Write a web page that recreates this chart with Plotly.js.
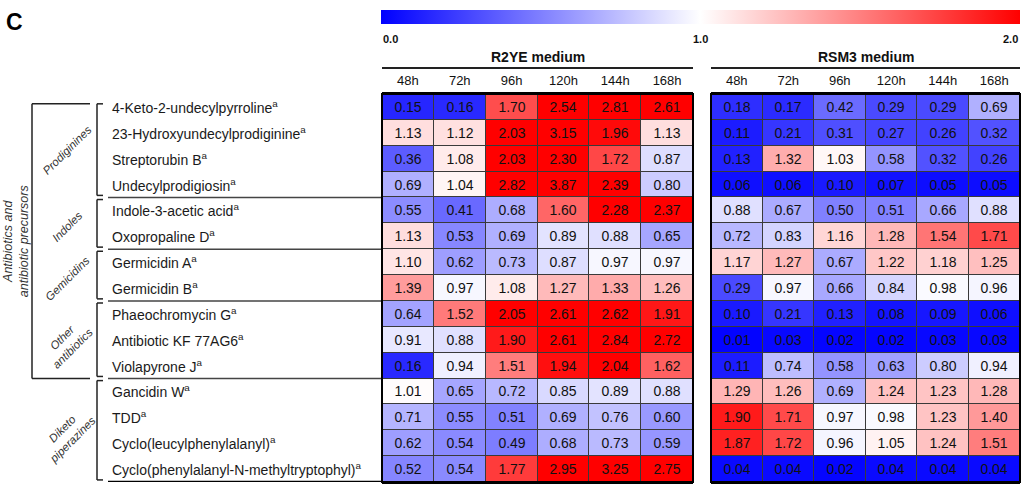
<!DOCTYPE html>
<html>
<head>
<meta charset="utf-8">
<script src="https://cdn.plot.ly/plotly-3.0.1.min.js"></script>
<style>html,body{margin:0;padding:0;background:#fff}#chart{width:1029px;height:490px}</style>
</head>
<body>
<div id="chart"></div>
<script>
const hours = ['48h','72h','96h','120h','144h','168h'];
const compounds = [
  '4-Keto-2-undecylpyrroline','23-Hydroxyundecylprodiginine','Streptorubin B','Undecylprodigiosin',
  'Indole-3-acetic acid','Oxopropaline D','Germicidin A','Germicidin B',
  'Phaeochromycin G','Antibiotic KF 77AG6','Violapyrone J',
  'Gancidin W','TDD','Cyclo(leucylphenylalanyl)','Cyclo(phenylalanyl-N-methyltryptophyl)'
];
const r2ye = [
  [0.15,0.16,1.70,2.54,2.81,2.61],
  [1.13,1.12,2.03,3.15,1.96,1.13],
  [0.36,1.08,2.03,2.30,1.72,0.87],
  [0.69,1.04,2.82,3.87,2.39,0.80],
  [0.55,0.41,0.68,1.60,2.28,2.37],
  [1.13,0.53,0.69,0.89,0.88,0.65],
  [1.10,0.62,0.73,0.87,0.97,0.97],
  [1.39,0.97,1.08,1.27,1.33,1.26],
  [0.64,1.52,2.05,2.61,2.62,1.91],
  [0.91,0.88,1.90,2.61,2.84,2.72],
  [0.16,0.94,1.51,1.94,2.04,1.62],
  [1.01,0.65,0.72,0.85,0.89,0.88],
  [0.71,0.55,0.51,0.69,0.76,0.60],
  [0.62,0.54,0.49,0.68,0.73,0.59],
  [0.52,0.54,1.77,2.95,3.25,2.75]
];
const rsm3 = [
  [0.18,0.17,0.42,0.29,0.29,0.69],
  [0.11,0.21,0.31,0.27,0.26,0.32],
  [0.13,1.32,1.03,0.58,0.32,0.26],
  [0.06,0.06,0.10,0.07,0.05,0.05],
  [0.88,0.67,0.50,0.51,0.66,0.88],
  [0.72,0.83,1.16,1.28,1.54,1.71],
  [1.17,1.27,0.67,1.22,1.18,1.25],
  [0.29,0.97,0.66,0.84,0.98,0.96],
  [0.10,0.21,0.13,0.08,0.09,0.06],
  [0.01,0.03,0.02,0.02,0.03,0.03],
  [0.11,0.74,0.58,0.63,0.80,0.94],
  [1.29,1.26,0.69,1.24,1.23,1.28],
  [1.90,1.71,0.97,0.98,1.23,1.40],
  [1.87,1.72,0.96,1.05,1.24,1.51],
  [0.04,0.04,0.02,0.04,0.04,0.04]
];
const media = ['R2YE medium','RSM3 medium'];
const groupNames = ['Prodiginines','Indoles','Gemicidins','Other<br>antibiotics','Diketo<br>piperazines'];
const groupSizes = [4,2,2,3,4];
const className = 'Antibiotics and<br>antibiotic precursors';
const classSize = 11;
const scaleTicks = ['0.0','1.0','2.0'];

const W = 1029, H = 490;
const px = v => v / W;
const py = v => 1 - v / H;
const FONT = 'Liberation Sans, Arial, Helvetica, sans-serif';
const rowIdx = compounds.map((_, i) => i);
const cscale = [[0,'rgb(0,0,255)'],[0.5,'rgb(255,255,255)'],[1,'rgb(255,0,0)']];

function hm(z, xa, showScale) {
  return {
    type: 'heatmap', z: z, x: hours, y: rowIdx, xaxis: xa, yaxis: 'y',
    zmin: 0, zmax: 2, colorscale: cscale, xgap: 1, ygap: 1,
    texttemplate: '%{z:.2f}', textfont: {family: FONT, size: 14, color: '#111'},
    hoverinfo: 'skip', showscale: showScale,
    colorbar: {
      orientation: 'h', xref: 'paper', yref: 'paper',
      x: px((381 + 1020) / 2), xanchor: 'center', y: py(10), yanchor: 'top',
      lenmode: 'pixels', len: 639, thicknessmode: 'pixels', thickness: 14,
      outlinewidth: 0, showticklabels: false, ticks: '', xpad: 0, ypad: 0
    }
  };
}
const data = [hm(r2ye, 'x', true), hm(rsm3, 'x2', false)];

const xCommon = {
  type: 'category', side: 'top', showgrid: false, zeroline: false, ticks: '',
  tickfont: {family: FONT, size: 13, color: '#111'}, ticklabelstandoff: 2,
  showline: true, mirror: true, linecolor: '#000', linewidth: 2, fixedrange: true
};

const annotations = [];
const shapes = [];

// panel letter
annotations.push({xref:'paper', yref:'paper', x: px(4), y: py(22), xanchor:'left', yanchor:'middle',
  text:'<b>C</b>', showarrow:false, font:{family:FONT, size:23, color:'#000'}});

// colour scale labels
const tickX = [px(381), px(700), px(1020)];
const tickAnchor = ['left','center','right'];
scaleTicks.forEach((t, i) => annotations.push({xref:'paper', yref:'paper', x: tickX[i], y: py(39),
  xanchor: tickAnchor[i], yanchor:'middle', text:'<b>'+t+'</b>', showarrow:false,
  font:{family:FONT, size:11, color:'#111'}}));

// medium titles + underline
['x','x2'].forEach((xa, i) => {
  annotations.push({xref: xa + ' domain', yref:'paper', x:0.5, y: py(57), xanchor:'center', yanchor:'middle',
    text:'<b>'+media[i]+'</b>', showarrow:false, font:{family:FONT, size:14, color:'#111'}});
  shapes.push({type:'line', xref: xa + ' domain', yref:'paper', x0:0, x1:1, y0: py(68), y1: py(68),
    line:{color:'#222', width:2}});
});

// compound row labels
compounds.forEach((c, i) => annotations.push({xref:'paper', yref:'y', x: px(110), y: i,
  xanchor:'left', yanchor:'middle', text: c + '<sup>a</sup>', showarrow:false,
  font:{family:FONT, size:14, color:'#1a1a1a'}}));

// group brackets
let start = 0;
const bx = px(97), tx = px(103), sepX0 = px(108), sepX1 = px(381);
groupSizes.forEach((n, g) => {
  const top = start - 0.5, bot = start + n - 0.5;
  const t0 = g === 0 ? top + 0.38 : top + 0.08;
  const b0 = bot - 0.08;
  shapes.push({type:'line', xref:'paper', yref:'y', x0:bx, x1:bx, y0:t0, y1:b0, line:{color:'#222', width:1.5}});
  shapes.push({type:'line', xref:'paper', yref:'y', x0:bx, x1:tx, y0:t0, y1:t0, line:{color:'#222', width:1.5}});
  shapes.push({type:'line', xref:'paper', yref:'y', x0:bx, x1:tx, y0:b0, y1:b0, line:{color:'#222', width:1.5}});
  const last = g === groupSizes.length - 1;
  shapes.push({type:'line', xref:'paper', yref:'y', x0:sepX0, x1:sepX1, y0:bot, y1:bot,
    line:{color: last ? '#000' : '#444', width: last ? 2.5 : 1.5}});
  annotations.push({xref:'paper', yref:'y', x: px(67), y: start + (n - 1) / 2 + 0.15, xanchor:'center', yanchor:'middle',
    text:'<i>'+groupNames[g]+'</i>', textangle:-45, showarrow:false,
    font:{family:FONT, size:11.5, color:'#333'}});
  start += n;
});

// outer class bracket
const oTop = -0.5 + 0.38, oBot = classSize - 0.5;
shapes.push({type:'line', xref:'paper', yref:'y', x0:px(32), x1:px(32), y0:oTop, y1:oBot, line:{color:'#222', width:1.5}});
shapes.push({type:'line', xref:'paper', yref:'y', x0:px(32), x1:px(90), y0:oTop, y1:oTop, line:{color:'#222', width:1.5}});
shapes.push({type:'line', xref:'paper', yref:'y', x0:px(32), x1:px(90), y0:oBot, y1:oBot, line:{color:'#222', width:1.5}});
annotations.push({xref:'paper', yref:'y', x: px(16), y: (oTop + oBot) / 2, xanchor:'center', yanchor:'middle',
  text:'<i>'+className+'</i>', textangle:-90, showarrow:false,
  font:{family:FONT, size:12.5, color:'#333'}});

// frames
['x','x2'].forEach(xa => shapes.push({type:'rect', xref: xa + ' domain', yref:'y domain', x0:0, x1:1, y0:0, y1:1,
  line:{color:'#000', width:2}}));

const layout = {
  width: W, height: H, margin: {l:0, r:0, t:0, b:0, autoexpand:false},
  paper_bgcolor: '#fff', plot_bgcolor: '#3a3a3a', showlegend: false,
  font: {family: FONT, color: '#111'},
  xaxis: Object.assign({}, xCommon, {domain: [px(382), px(693)], anchor: 'y'}),
  xaxis2: Object.assign({}, xCommon, {domain: [px(711), px(1020)], anchor: 'y'}),
  yaxis: {domain: [1 - 482/H, 1 - 94/H], range: [14.5, -0.5], showticklabels: false, ticks: '',
    showgrid: false, zeroline: false, showline: false, fixedrange: true},
  annotations: annotations, shapes: shapes
};

Plotly.newPlot('chart', data, layout, {displayModeBar:false, staticPlot:true});
</script>
</body>
</html>
